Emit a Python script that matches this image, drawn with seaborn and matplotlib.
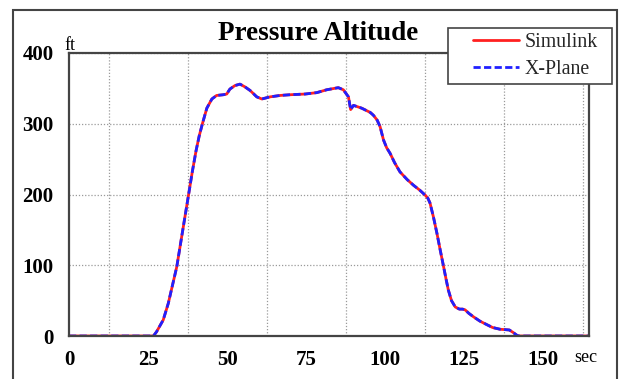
import matplotlib
matplotlib.use("Agg")
import matplotlib.pyplot as plt
from matplotlib.patches import Rectangle
from matplotlib.ticker import MultipleLocator
from matplotlib.lines import Line2D
from matplotlib.legend_handler import HandlerLine2D
import seaborn as sns
import pandas as pd

# ---- data ----
time_s = [0, 26.7, 27.7, 29.8, 31.4, 34.1, 36.0, 37.8, 39.0, 40.2, 41.2,
          42.2, 43.6, 45.2, 46.7, 48.8, 49.9, 50.9, 52.5, 54.1, 55.7, 57.3,
          59.4, 61.0, 63.6, 66.8, 69.9, 74.7, 78.4, 81.5, 85.2, 86.8, 88.4,
          89.1, 90.0, 92.6, 95.3, 96.3, 97.5, 98.4, 99.5, 100.5, 101.6,
          103.0, 104.7, 107.0, 109.0, 111.0, 112.7, 113.5, 114.2, 115.3,
          116.4, 117.5, 118.5, 119.3, 120.0, 121.0, 122.2, 123.5, 124.5,
          125.3, 126.5, 128.0, 130.0, 132.2, 134.0, 136.4, 138.0, 139.3,
          140.5, 141.7, 142.3, 164.5]
simulink_ft = [0, 0, 6, 22.6, 46, 98, 150, 199, 232, 262, 283,
               300, 322, 335, 340, 341, 342, 349, 354, 356, 352, 347,
               338, 335, 338, 340, 341, 342, 344, 348, 351, 348, 338,
               320, 326, 322, 316, 312, 305, 296, 277, 266, 258,
               245, 232, 221, 213, 206, 199, 195, 188, 168,
               145, 120, 98, 80, 65, 50, 41, 38, 38,
               37, 32, 27, 21, 16, 12, 9.5, 9, 8.5,
               5, 1, 0, 0]
xplane_ft = [0, 0, 6, 22.6, 46, 98, 150, 199, 232, 262, 283,
             300, 322, 335, 340, 341, 342, 349, 354, 356, 352, 347,
             338, 335, 338, 340, 341, 342, 344, 348, 351, 348, 338,
             320, 326, 322, 316, 312, 305, 296, 277, 266, 258,
             245, 232, 221, 213, 206, 199, 195, 188, 168,
             145, 120, 98, 80, 65, 50, 41, 38, 38,
             37, 32, 27, 21, 16, 12, 9.5, 9, 8.5,
             5, 1, 0, 0]
x_ticks = [0, 25, 50, 75, 100, 125, 150]
y_ticks = [0, 100, 200, 300, 400]

sns.set_theme(style="white")
plt.rcParams['font.family'] = ['Liberation Serif', 'DejaVu Serif']

W, H = 620, 379
fig = plt.figure(figsize=(W / 100, H / 100), dpi=100)
ax = fig.add_axes([69 / W, 1 - 336 / H, (589 - 69) / W, (336 - 53) / H])

df = pd.DataFrame({"t": time_s, "sim": simulink_ft, "xp": xplane_ft})
sns.lineplot(data=df, x="t", y="sim", color="#ff2020", linewidth=2.0,
             label="Simulink", ax=ax, legend=False)
sns.lineplot(data=df, x="t", y="xp", color="#2020ff", linewidth=2.0,
             linestyle=(0, (2.6, 1.2)), label="X-Plane", ax=ax, legend=False)
for ln in ax.get_lines():
    ln.set_solid_joinstyle("round")
    ln.set_dash_joinstyle("round")

ax.set_xlim(0, 164.5)
ax.set_ylim(0, 400)
ax.set_xticks(x_ticks)
ax.set_yticks(y_ticks)
ax.xaxis.set_minor_locator(MultipleLocator(12.5))
ax.set_xlabel("")
ax.set_ylabel("")
ax.grid(False)
ax.grid(True, which="minor", axis="x", color="#9a9a9a", linestyle=(0, (1, 1.5)), linewidth=0.9)
ax.grid(True, which="major", axis="y", color="#9a9a9a", linestyle=(0, (1, 1.5)), linewidth=0.9)
ax.tick_params(axis="both", which="both", length=0)
ax.tick_params(axis="x", pad=10)
ax.tick_params(axis="y", pad=11)
for lbl in ax.get_xticklabels() + ax.get_yticklabels():
    lbl.set_fontweight("bold")
    lbl.set_fontsize(15)
    lbl.set_color("black")
for sp in ax.spines.values():
    sp.set_color("#444444")
    sp.set_linewidth(1.6)
    sp.set_visible(True)

# outer border
fig.patches.append(Rectangle((13 / W, -0.05), (617 - 13) / W, 1 - 10 / H + 0.05,
                             transform=fig.transFigure, fill=False,
                             edgecolor="#444444", linewidth=1.5))

fig.text(318 / W, 1 - 34 / H, "Pressure Altitude", ha="center", va="center",
         fontsize=19.5, fontweight="bold", color="black")
fig.text(64 / W, 1 - 45 / H, "ft", ha="left", va="center", fontsize=13, color="black")
fig.text(574 / W, 1 - 357 / H, "sec", ha="left", va="center", fontsize=13, color="black")

handles = ax.get_lines()[:2]
leg = fig.legend(handles, ["Simulink", "X-Plane"], loc="upper left",
                 bbox_to_anchor=(448 / W, 1 - 81 / H, 164 / W, 53 / H),
                 bbox_transform=fig.transFigure, mode="expand",
                 fontsize=14.3, frameon=True, fancybox=False, handlelength=3.3,
                 handletextpad=0.3, borderpad=0.25, labelspacing=0.4,
                 borderaxespad=0,
                 handler_map={Line2D: HandlerLine2D(xpad=1.0)})
leg.get_frame().set_edgecolor("#444444")
leg.get_frame().set_linewidth(1.2)
leg.get_frame().set_facecolor("white")
leg.get_frame().set_alpha(1)

fig.savefig("out.png", dpi=100, facecolor="white")
